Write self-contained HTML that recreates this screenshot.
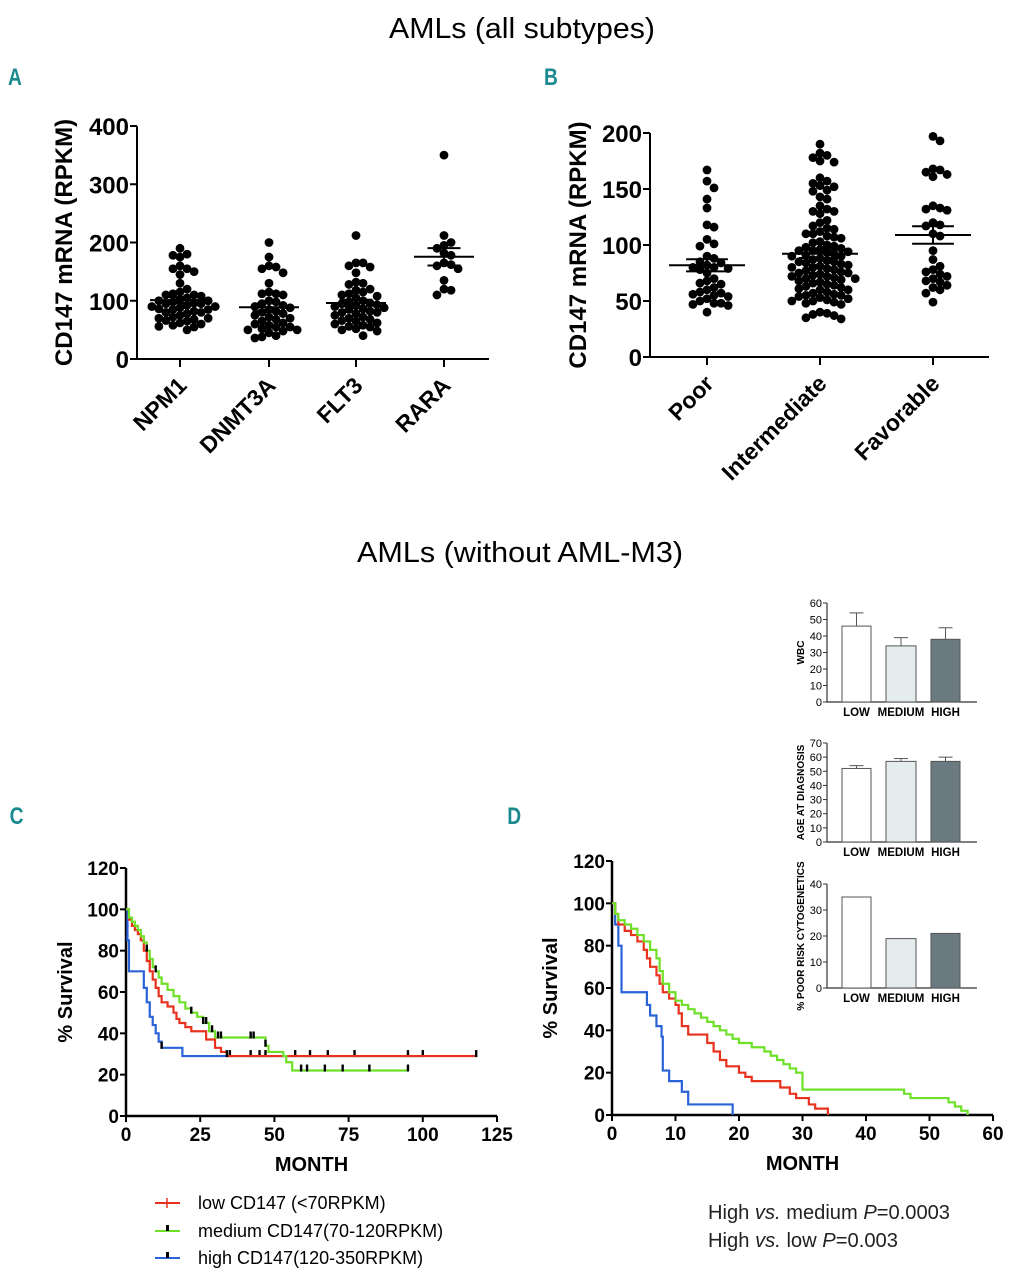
<!DOCTYPE html>
<html><head><meta charset="utf-8"><style>
html,body{margin:0;padding:0;background:#fff;}
svg{display:block;font-family:"Liberation Sans",Arial,sans-serif;}
</style></head><body>
<svg id="fig" width="1015" height="1280" viewBox="0 0 1015 1280">
<text x="522" y="38" font-size="29" text-anchor="middle" textLength="266" lengthAdjust="spacingAndGlyphs">AMLs (all subtypes)</text>
<text x="520" y="562" font-size="29" text-anchor="middle" textLength="326" lengthAdjust="spacingAndGlyphs">AMLs (without AML-M3)</text>
<text x="10" y="85" font-size="24" font-weight="bold" fill="#1b8a8f" transform="scale(0.8,1)">A</text>
<text x="680" y="85" font-size="24" font-weight="bold" fill="#1b8a8f" transform="scale(0.8,1)">B</text>
<text x="12" y="824" font-size="24" font-weight="bold" fill="#1b8a8f" transform="scale(0.8,1)">C</text>
<text x="634" y="824" font-size="24" font-weight="bold" fill="#1b8a8f" transform="scale(0.8,1)">D</text>
<g id="gA"></g>
<g id="gB"></g>
<g id="gC"></g>
<g id="gD"></g>
<g id="gI"></g>
<g>
 <g><line x1="155" y1="1203" x2="180" y2="1203" stroke="#e8321e" stroke-width="2"/><line x1="167" y1="1198" x2="167" y2="1208" stroke="#e8321e" stroke-width="1.5"/><text x="198" y="1209" font-size="18">low CD147 (&lt;70RPKM)</text></g>
 <g><line x1="155" y1="1231" x2="180" y2="1231" stroke="#6fe028" stroke-width="2"/><rect x="166" y="1225" width="3" height="6" fill="#000"/><text x="198" y="1237" font-size="18">medium CD147(70-120RPKM)</text></g>
 <g><line x1="155" y1="1258" x2="180" y2="1258" stroke="#2a62d8" stroke-width="2"/><rect x="166" y="1252" width="3" height="6" fill="#000"/><text x="198" y="1264" font-size="18">high CD147(120-350RPKM)</text></g>
</g>
<g font-size="20" fill="#222">
 <text x="708" y="1219" textLength="242" lengthAdjust="spacingAndGlyphs">High <tspan font-style="italic">vs.</tspan> medium <tspan font-style="italic">P</tspan>=0.0003</text>
 <text x="708" y="1247" textLength="190" lengthAdjust="spacingAndGlyphs">High <tspan font-style="italic">vs.</tspan> low <tspan font-style="italic">P</tspan>=0.003</text>
</g>
</svg>
<script>
// ---------- data ----------
const catsA = ["NPM1","DNMT3A","FLT3","RARA"];
const npm1 = [190,180,175,178,160,155,155,150,145,130,120,115,112,110,110,108,105,102,100,100,98,96,95,95,92,90,90,88,86,85,85,82,80,80,78,75,72,70,70,68,66,65,62,60,58,56,55,50];
const dnmt3a = [200,175,160,158,155,148,130,115,112,112,110,100,98,95,92,90,88,85,82,80,78,75,72,70,68,65,62,60,58,55,55,52,50,50,48,45,40,38,36];
const flt3 = [212,165,165,160,158,148,132,130,128,120,118,115,112,110,108,105,100,98,96,95,93,92,90,88,86,85,82,80,80,78,75,72,70,68,66,65,62,60,58,56,55,52,50,48,40];
const rara = [350,212,200,195,190,182,178,165,162,160,155,135,120,118,110];
const ticksA = [0,100,200,300,400];
const catsB = ["Poor","Intermediate","Favorable"];
const poor = [167,157,151,141,133,118,116,105,101,99,90,88,85,84,82,80,80,79,78,75,70,68,66,65,62,60,58,57,56,55,54,52,50,48,48,47,46,40];
const inter = [190,182,180,178,175,174,160,157,155,153,152,149,148,143,141,135,132,130,130,128,122,120,117,115,114,112,110,110,108,107,106,103,102,100,99,98,97,96,95,95,94,93,92,91,90,90,88,87,86,85,85,84,83,82,81,80,80,79,78,77,76,75,75,74,73,72,72,71,70,70,69,68,67,66,65,64,63,62,61,60,60,58,57,56,55,55,54,53,52,51,50,50,49,48,47,40,39,38,37,35,34];
const fav = [197,193,168,167,165,163,161,135,133,132,131,120,118,117,110,108,95,87,81,78,76,74,72,70,68,67,64,62,60,57,49];
const ticksB = [0,50,100,150,200];
// KM C
const cLowT = [0,1,2,3,4,5,6,7,8,9,10,11,12,14,16,17,18,20,22,25,27,30,32,34,118];
const cLowS = [100,95,92,90,88,85,80,75,70,66,62,58,55,53,50,47,45,43,41,41,37,33,31,29,29];
const cMedT = [0,1,2,3,4,5,6,7,8,9,10,11,12,14,16,18,20,22,24,26,28,30,46,47,48,53,54,56,95];
const cMedS = [100,96,94,92,90,87,84,80,76,72,70,67,64,61,58,55,52,50,48,45,41,38,38,34,31,29,26,22,22];
const cHighT = [0,0.5,1,5,6,7,8,9,10,11,12,19,100];
const cHighS = [100,85,70,70,62,55,48,44,40,36,33,29,29];
const cLowCens = [34,118];
const cMedCens = [7,10,22,26,27,29,31,32,42,43,47,59,61,67,73,82,95];
const cHighCens = [12,35,42,45,47,57,62,68,77,95,100];
const ticksCx = [0,25,50,75,100,125];
const ticksSurv = [0,20,40,60,80,100,120];
// KM D
const dLowT = [0,0.5,1,2,3,4,5,5.5,6,7,7.5,8,9,10,10.5,11,12,15,16,17,18,20,21,22,26,26.5,28,29,31,32,34];
const dLowS = [100,95,90,87,85,82,78,74,70,66,62,58,55,52,48,42,38,34,30,26,23,20,18,16,16,13,10,8,5,3,0];
const dMedT = [0,0.5,1,2,3,4,5,6,7,7.5,8,9,10,11,12,13,14,15,16,17,18,19,20,22,24,25,26,27,28,29,30,46,47,53,54,55,56];
const dMedS = [100,95,92,90,88,85,82,78,74,68,62,58,54,52,50,48,46,44,42,40,38,36,34,32,30,28,26,24,22,20,12,10,8,6,4,2,0];
const dHighT = [0,0.5,1,1.5,5,5.5,6,7,7.8,8,9,11,12,19];
const dHighS = [100,90,80,58,58,52,47,42,37,21,16,11,5,0];
const ticksDx = [0,10,20,30,40,50,60];
// insets
const insetCats = ["LOW","MEDIUM","HIGH"];
const wbcVals = [46,34,38];
const wbcErr = [8,5,7];
const ageVals = [52,57,57];
const ageErr = [2,2,3];
const poorVals = [35,19,21];

const NS="http://www.w3.org/2000/svg";
function mk(tag,attrs,parent,txt){const e=document.createElementNS(NS,tag);for(const k in attrs)e.setAttribute(k,attrs[k]);if(txt!==undefined)e.textContent=txt;parent.appendChild(e);return e;}

// ---------- scatter panels ----------
function scatter(g,cats,groups,ticks,o){
  const y=v=>o.y0-(v-ticks[0])/(ticks[ticks.length-1]-ticks[0])*(o.y0-o.yTop);
  let ax=mk('line',{x1:o.x0,y1:o.yTop,x2:o.x0,y2:o.y0,stroke:'#000','stroke-width':2},g);
  
  
  let bx=mk('line',{x1:o.x0,y1:o.y0,x2:o.xEnd,y2:o.y0,stroke:'#000','stroke-width':2},g);
  
  
  ticks.forEach(t=>{
    mk('line',{x1:o.x0-7,y1:y(t),x2:o.x0,y2:y(t),stroke:'#000','stroke-width':2},g);
    let tl=mk('text',{x:o.x0-8,y:y(t)+9,'font-size':o.fs,'font-weight':'bold','text-anchor':'end'},g,t);
    
    
  });
  let yt=mk('text',{x:0,y:0,'font-size':o.tfs,'font-weight':'bold','text-anchor':'middle',transform:`translate(${o.titleX},${(o.y0+o.yTop)/2}) rotate(-90)`},g,'CD147 mRNA (RPKM)');
  
  
  const r=o.r;
  cats.forEach((c,i)=>{
    const cx=o.cx[i];
    mk('line',{x1:cx,y1:o.y0,x2:cx,y2:o.y0+8,stroke:'#000','stroke-width':2},g);
    let cl=mk('text',{x:0,y:0,'font-size':o.cfs,'font-weight':'bold','text-anchor':'end',transform:`translate(${cx+8},${o.y0+28}) rotate(-45)`},g,c);
    
    
    const vals=groups[i];
    const placed=[];
    [...vals].sort((a,b)=>b-a).forEach(v=>{
      const py=y(v);
      let k=0,px=cx;
      for(k=0;k<60;k++){
        const off=Math.ceil(k/2)*(k%2?1:-1)*r*1.6;
        px=cx+off;
        if(placed.every(p=>Math.hypot(p[0]-px,p[1]-py)>=2*r*0.8))break;
      }
      placed.push([px,py]);
      let d=mk('circle',{cx:px,cy:py,r:r,fill:'#000'},g);
      
      
    });
    const m=vals.reduce((a,b)=>a+b,0)/vals.length;
    const sd=Math.sqrt(vals.reduce((a,b)=>a+(b-m)**2,0)/(vals.length-1));
    const se=sd/Math.sqrt(vals.length);
    let ml=mk('line',{x1:cx-o.mw,y1:y(m),x2:cx+o.mw,y2:y(m),stroke:'#000','stroke-width':2},g);
    
    
    mk('line',{x1:cx,y1:y(m-se),x2:cx,y2:y(m+se),stroke:'#000','stroke-width':2},g);
    mk('line',{x1:cx-o.mw*0.55,y1:y(m+se),x2:cx+o.mw*0.55,y2:y(m+se),stroke:'#000','stroke-width':2},g);
    mk('line',{x1:cx-o.mw*0.55,y1:y(m-se),x2:cx+o.mw*0.55,y2:y(m-se),stroke:'#000','stroke-width':2},g);
  });
}
scatter(document.getElementById('gA'),catsA,[npm1,dnmt3a,flt3,rara],ticksA,
 {x0:137,y0:359,yTop:126,xEnd:489,cx:[180,269,356,444],fs:24,tfs:24,cfs:23,titleX:72,r:4.4,mw:30});
scatter(document.getElementById('gB'),catsB,[poor,inter,fav],ticksB,
 {x0:650,y0:357,yTop:133,xEnd:989,cx:[707,820,933],fs:24,tfs:24,cfs:23,titleX:586,r:4.4,mw:38});

// ---------- KM ----------
function km(g,series,ticksX,o){
  const xmax=ticksX[ticksX.length-1];
  const X=t=>o.x0+t/xmax*(o.xEnd-o.x0);
  const Y=s=>o.y0-s/120*(o.y0-o.yTop);
  let ya=mk('line',{x1:o.x0,y1:o.yTop,x2:o.x0,y2:o.y0,stroke:'#000','stroke-width':2.5},g);
  
  
  let xa=mk('line',{x1:o.x0,y1:o.y0,x2:o.xEnd,y2:o.y0,stroke:'#000','stroke-width':2.5},g);
  
  
  ticksSurv.forEach(t=>{
    mk('line',{x1:o.x0-6,y1:Y(t),x2:o.x0,y2:Y(t),stroke:'#000','stroke-width':2},g);
    let l=mk('text',{x:o.x0-7,y:Y(t)+7,'font-size':o.fs,'font-weight':'bold','text-anchor':'end'},g,t);
    
    
  });
  ticksX.forEach(t=>{
    mk('line',{x1:X(t),y1:o.y0,x2:X(t),y2:o.y0+6,stroke:'#000','stroke-width':2},g);
    let l=mk('text',{x:X(t),y:o.y0+25,'font-size':o.fs,'font-weight':'bold','text-anchor':'middle'},g,t);
    
    
  });
  let xt=mk('text',{x:(o.x0+o.xEnd)/2,y:o.y0+55,'font-size':20,'font-weight':'bold','text-anchor':'middle'},g,'MONTH');
  
  
  let yt=mk('text',{x:0,y:0,'font-size':20,'font-weight':'bold','text-anchor':'middle',transform:`translate(${o.titleX},${Y(60)}) rotate(-90)`},g,'% Survival');
  
  
  series.forEach(s=>{
    let d=`M${X(s.t[0])},${Y(s.s[0])}`;
    for(let i=1;i<s.t.length;i++){d+=` H${X(s.t[i])} V${Y(s.s[i])}`;}
    let p=mk('path',{d:d,fill:'none',stroke:s.c,'stroke-width':2.2},g);
    
    
    (s.cens||[]).forEach(ct=>{
      let idx=0;for(let i=0;i<s.t.length;i++){if(s.t[i]<=ct)idx=i;}
      let m=mk('rect',{x:X(ct)-1.2,y:Y(s.s[idx])-6,width:2.4,height:7,fill:'#000'},g);
      
      
    });
  });
}
km(document.getElementById('gC'),[
 {name:'curve-high',t:cHighT,s:cHighS,c:'#2a62d8',cens:cHighCens},
 {name:'curve-low',t:cLowT,s:cLowS,c:'#e8321e',cens:cLowCens},
 {name:'curve-medium',t:cMedT,s:cMedS,c:'#6fe028',cens:cMedCens}],ticksCx,
 {x0:126,y0:1116,yTop:868,xEnd:497,fs:19,titleX:72});
km(document.getElementById('gD'),[
 {name:'curve-high',t:dHighT,s:dHighS,c:'#2a62d8'},
 {name:'curve-low',t:dLowT,s:dLowS,c:'#e8321e'},
 {name:'curve-medium',t:dMedT,s:dMedS,c:'#6fe028'}],ticksDx,
 {x0:612,y0:1115,yTop:861,xEnd:993,fs:19,titleX:557});

// ---------- insets ----------
function inset(g,vals,errs,ymax,step,o){
  const Y=v=>o.y0-v/ymax*(o.y0-o.yTop);
  const fills=['#ffffff','#e4ecee','#6b7a81'];
  const bx=[[842,871],[886,916],[931,960]];
  mk('line',{x1:827,y1:o.yTop,x2:827,y2:o.y0,stroke:'#333','stroke-width':1.2},g);
  mk('line',{x1:827,y1:o.y0,x2:977,y2:o.y0,stroke:'#333','stroke-width':1.2},g);
  for(let t=0;t<=ymax;t+=step){
    mk('line',{x1:823,y1:Y(t),x2:827,y2:Y(t),stroke:'#333','stroke-width':1},g);
    let l=mk('text',{x:822,y:Y(t)+4,'font-size':11,'text-anchor':'end'},g,t);
    
    
  }
  let yt=mk('text',{x:0,y:0,'font-size':10,'font-weight':'bold','text-anchor':'middle',transform:`translate(${o.tx},${(o.y0+o.yTop)/2}) rotate(-90)`},g,o.title);
  
  
  vals.forEach((v,i)=>{
    const [a,b]=bx[i];
    if(errs){mk('line',{x1:(a+b)/2,y1:Y(v),x2:(a+b)/2,y2:Y(v+errs[i]),stroke:'#555','stroke-width':1},g);
      mk('line',{x1:(a+b)/2-7,y1:Y(v+errs[i]),x2:(a+b)/2+7,y2:Y(v+errs[i]),stroke:'#555','stroke-width':1},g);}
    let r=mk('rect',{x:a,y:Y(v),width:b-a,height:o.y0-Y(v),fill:fills[i],stroke:'#555','stroke-width':1},g);
    
    
    let l=mk('text',{x:(a+b)/2,y:o.y0+14,'font-size':11.5,'font-weight':'bold','text-anchor':'middle'},g,insetCats[i]);
    
    
  });
}
const gI=document.getElementById('gI');
inset(gI,wbcVals,wbcErr,60,10,{y0:702,yTop:603,title:'WBC',tx:804});
inset(gI,ageVals,ageErr,70,10,{y0:842,yTop:743,title:'AGE AT DIAGNOSIS',tx:804});
inset(gI,poorVals,null,40,10,{y0:988,yTop:884,title:'% POOR RISK CYTOGENETICS',tx:804});
</script>
</body></html>
